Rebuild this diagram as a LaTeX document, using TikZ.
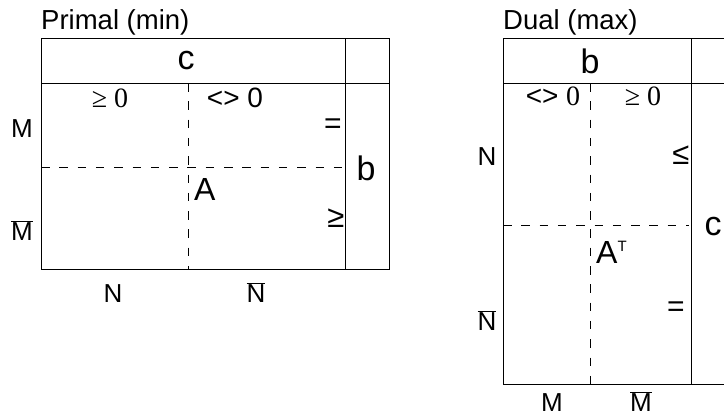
\documentclass[tikz,border=0pt]{standalone}
\usepackage{fontspec}
\setmainfont{Liberation Sans}
\newfontfamily\seriffont{Liberation Serif}
\begin{document}
\begin{tikzpicture}[x=1pt,y=-1pt,
  frame/.style={line width=1pt, line cap=rect},
  dsh/.style={line width=0.8pt, dash pattern=on 8.5pt off 9.8pt},
  lbl/.style={inner sep=0pt, anchor=base, font=\fontsize{26}{30}\selectfont},
  ttl/.style={inner sep=0pt, anchor=base west, font=\fontsize{27.5}{30}\selectfont},
  vec/.style={inner sep=0pt, anchor=base, font=\fontsize{34}{36}\selectfont},
  mat/.style={inner sep=0pt, anchor=base west, font=\fontsize{32}{34}\selectfont},
  sgn/.style={inner sep=0pt, anchor=base, font=\fontsize{28}{30}\selectfont},
  rel/.style={inner sep=0pt, anchor=base, font=\fontsize{30}{32}\selectfont},
  ineq/.style={inner sep=0pt, anchor=base, font=\fontsize{31}{34}\selectfont}]
\useasboundingbox (0,0) rectangle (724,416);
% ---------------- Primal ----------------
\coordinate (ptl) at (41,38);
\coordinate (ptr) at (389,38);
\coordinate (pbl) at (41,269);
\coordinate (pbr) at (389,269);
\coordinate (phl) at (41,83);
\coordinate (phr) at (389,83);
\coordinate (pvt) at (345,38);
\coordinate (pvb) at (345,269);
\coordinate (pdvt) at (188,83);
\coordinate (pdvb) at (188,269);
\coordinate (pdhl) at (41,167);
\coordinate (pdhr) at (343,167);
\draw[frame] (ptl) -- (ptr) -- (pbr) -- (pbl) -- cycle;
\draw[frame] (phl) -- (phr);
\draw[frame] (pvt) -- (pvb);
\draw[dsh] (pdvt) -- (pdvb);
\draw[dsh] (pdhl) -- (pdhr);
\node[ttl] (ptitle) at (41,29) {Primal (min)};
\node[vec] (pc) at (186,69) {c};
\node[vec] (pb) at (366,180) {b};
\node[sgn] (pge) at (110,107) {\seriffont ≥ 0};
\node[sgn] (pfree) at (235,107) {<> 0};
\node[rel] (peq) at (333,133) {=};
\node[ineq] (pgeq) at (336,227) {≥};
\node[mat] (pA) at (194,200) {A};
\node[lbl] (pM) at (22,137) {M};
\node[lbl] (pMb) at (22,240) {$\overline{\hbox{M}}$};
\node[lbl] (pN) at (113,302) {N};
\node[lbl] (pNb) at (256,302) {$\overline{\hbox{N}}$};
% ---------------- Dual ----------------
\coordinate (dtl) at (503,38);
\coordinate (dtr) at (724,38);
\coordinate (dbl) at (503,384);
\coordinate (dbr) at (724,384);
\coordinate (dhl) at (503,83);
\coordinate (dhr) at (724,83);
\coordinate (dvt) at (691,38);
\coordinate (dvb) at (691,384);
\coordinate (ddvt) at (590,83);
\coordinate (ddvb) at (590,384);
\coordinate (ddhl) at (503,225);
\coordinate (ddhr) at (689,225);
\draw[frame] (dtr) -- (dtl) -- (dbl) -- (dbr);
\draw[frame] (dhl) -- (dhr);
\draw[frame] (dvt) -- (dvb);
\draw[dsh] (ddvt) -- (ddvb);
\draw[dsh] (ddhl) -- (ddhr);
\node[ttl] (dtitle) at (503,29) {Dual (max)};
\node[vec] (db) at (590,73) {b};
\node[vec] (dc) at (713,235) {c};
\node[sgn] (dfree) at (553,105) {<> \seriffont 0};
\node[sgn] (dge) at (643,105) {\seriffont ≥ 0};
\node[ineq] (dleq) at (681,164) {≤};
\node[rel] (deq) at (676,316) {=};
\node[mat] (dA) at (596,263) {A\raisebox{12pt}{\fontsize{15}{16}\selectfont T}};
\node[lbl] (dN) at (487,165) {N};
\node[lbl] (dNb) at (487,330) {$\overline{\hbox{N}}$};
\node[lbl] (dM) at (552,411) {M};
\node[lbl] (dMb) at (641,411) {$\overline{\hbox{M}}$};
\end{tikzpicture}
\end{document}
